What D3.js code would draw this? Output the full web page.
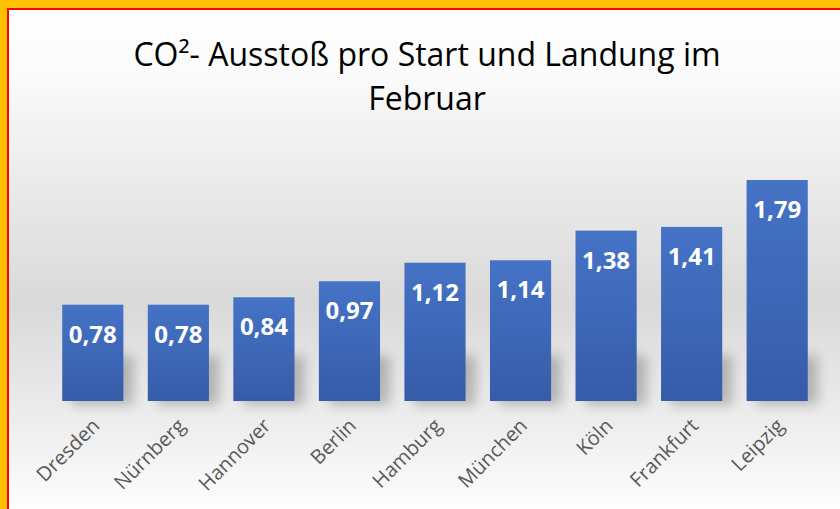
<!DOCTYPE html>
<html>
<head>
<meta charset="utf-8">
<script src="https://cdn.jsdelivr.net/npm/d3@7"></script>
<style>
  html, body { margin: 0; padding: 0; background: #ffc000; }
  #d3 { width: 840px; height: 509px; overflow: hidden; }
</style>
</head>
<body>
<div id="d3"></div>
<script>
// data
const cities = ["Dresden", "Nürnberg", "Hannover", "Berlin", "Hamburg", "München", "Köln", "Frankfurt", "Leipzig"];
const values = [0.78, 0.78, 0.84, 0.97, 1.12, 1.14, 1.38, 1.41, 1.79];
const titleLines = ["CO²- Ausstoß pro Start und Landung im", "Februar"];

const data = cities.map((c, i) => ({ city: c, value: values[i] }));

const W = 840, H = 509;

const svg = d3.select("#d3").append("svg")
  .attr("width", W)
  .attr("height", H);

const defs = svg.append("defs");

// background gradient
const bg = defs.append("linearGradient").attr("id", "bg")
  .attr("x1", 0).attr("y1", 0).attr("x2", 0).attr("y2", 1);
bg.append("stop").attr("offset", "0%").attr("stop-color", "#ffffff");
bg.append("stop").attr("offset", "12%").attr("stop-color", "#fbfbfb");
bg.append("stop").attr("offset", "58%").attr("stop-color", "#d9d9d9");
bg.append("stop").attr("offset", "80%").attr("stop-color", "#ececec");
bg.append("stop").attr("offset", "100%").attr("stop-color", "#ffffff");

// bar gradient
const barGrad = defs.append("linearGradient").attr("id", "barGrad")
  .attr("x1", 0).attr("y1", 0).attr("x2", 0).attr("y2", 1);
barGrad.append("stop").attr("offset", "0%").attr("stop-color", "#4573c6");
barGrad.append("stop").attr("offset", "100%").attr("stop-color", "#365ca9");

// blur for shadows
defs.append("filter").attr("id", "blur")
  .attr("x", "-50%").attr("y", "-50%").attr("width", "200%").attr("height", "200%")
  .append("feGaussianBlur").attr("stdDeviation", 6);

// frame: yellow outer, red line, gradient inside
svg.append("rect")
  .attr("x", 8).attr("y", 9)
  .attr("width", W).attr("height", H)
  .attr("fill", "url(#bg)")
  .attr("stroke", "#ff0000")
  .attr("stroke-width", 2);

// scales
const x = d3.scaleBand()
  .domain(cities)
  .range([50, 820])
  .paddingInner(0.285)
  .paddingOuter(0.143);

const y = d3.scaleLinear()
  .domain([0, 1.79])
  .range([401, 180]);

// title
svg.append("text")
  .attr("text-anchor", "middle")
  .attr("font-family", "'Open Sans', sans-serif")
  .attr("font-size", 32)
  .attr("fill", "#000")
  .selectAll("tspan")
  .data(titleLines)
  .join("tspan")
  .attr("x", 427)
  .attr("y", (d, i) => 66 + i * 44)
  .text(d => d);

// shadows
svg.append("g")
  .selectAll("rect")
  .data(data)
  .join("rect")
  .attr("x", d => x(d.city) + 10)
  .attr("y", d => Math.max(y(d.value), y(0) - 45))
  .attr("width", x.bandwidth())
  .attr("height", d => y(0) - Math.max(y(d.value), y(0) - 45) + 4)
  .attr("fill", "#000")
  .attr("opacity", 0.22)
  .attr("filter", "url(#blur)");

// bars
svg.append("g")
  .selectAll("rect")
  .data(data)
  .join("rect")
  .attr("x", d => x(d.city))
  .attr("y", d => y(d.value))
  .attr("width", x.bandwidth())
  .attr("height", d => y(0) - y(d.value))
  .attr("fill", "url(#barGrad)");

// value labels
const fmt = d3.format(".2f");
svg.append("g")
  .selectAll("text")
  .data(data)
  .join("text")
  .attr("x", d => x(d.city) + x.bandwidth() / 2)
  .attr("y", d => y(d.value) + 38)
  .attr("text-anchor", "middle")
  .attr("font-family", "'Open Sans', sans-serif")
  .attr("font-weight", "bold")
  .attr("font-size", 24)
  .attr("fill", "#fff")
  .text(d => fmt(d.value).replace(".", ","));

// x axis labels
const xAxis = svg.append("g")
  .attr("transform", `translate(0, ${y(0)})`)
  .call(d3.axisBottom(x).tickSize(0).tickPadding(0));
xAxis.select(".domain").remove();
xAxis.selectAll("text")
  .attr("font-family", "'Open Sans', sans-serif")
  .attr("font-size", 20)
  .attr("fill", "#595959")
  .attr("dy", 0)
  .attr("text-anchor", "end")
  .attr("transform", "translate(8, 26) rotate(-45)");
</script>
</body>
</html>
